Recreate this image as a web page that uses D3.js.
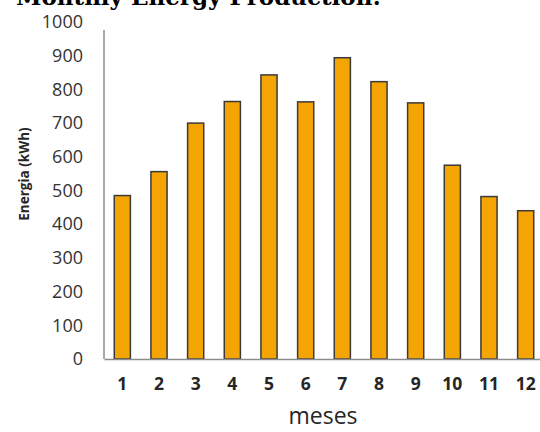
<!DOCTYPE html>
<html>
<head>
<meta charset="utf-8">
<script src="https://cdn.jsdelivr.net/npm/d3@7"></script>
<style>
  body { margin: 0; background: #fff; }
  svg { display: block; }
</style>
</head>
<body>
<div id="vis1"></div>
<script>
const FRAME_HEIGHT = 432;
const FRAME_WIDTH = 540;
const MARGINS = {left: 104, right: -4, top: 22, bottom: 73};

const VIS_HEIGHT = FRAME_HEIGHT - MARGINS.top - MARGINS.bottom;
const VIS_WIDTH = FRAME_WIDTH - MARGINS.left - MARGINS.right;

// data
const MONTHS = ["1", "2", "3", "4", "5", "6", "7", "8", "9", "10", "11", "12"];
const ENERGY = [485, 556, 700, 764, 843, 763, 894, 823, 760, 575, 482, 440];
const Y_TICKS = [0, 100, 200, 300, 400, 500, 600, 700, 800, 900, 1000];

const FRAME = d3.select("#vis1")
                  .append("svg")
                    .attr("height", FRAME_HEIGHT)
                    .attr("width", FRAME_WIDTH);

const X_SCALE = d3.scaleBand()
                  .domain(MONTHS)
                  .range([0, VIS_WIDTH])
                  .paddingInner(0.56)
                  .paddingOuter(0.28);

const Y_SCALE = d3.scaleLinear()
                  .domain([0, 1000])
                  .range([VIS_HEIGHT, 0]);

const G = FRAME.append("g")
            .attr("transform", "translate(" + MARGINS.left + "," + MARGINS.top + ")");

// y axis (no tick marks, just labels + line)
const yAxis = G.append("g")
    .call(d3.axisLeft(Y_SCALE).tickValues(Y_TICKS).tickFormat(d3.format("d"))
            .tickSize(0).tickPadding(21));
yAxis.select(".domain").remove();
yAxis.selectAll("text")
    .attr("font-family", "'Open Sans', sans-serif")
    .attr("font-size", "18px")
    .attr("fill", "#333");

G.append("line")
    .attr("x1", 0).attr("x2", 0)
    .attr("y1", Y_SCALE(1000) + 8).attr("y2", VIS_HEIGHT)
    .attr("stroke", "#8c8c8c").attr("stroke-width", 1.5);

// bars
G.selectAll(".bar")
    .data(ENERGY)
    .enter()
    .append("rect")
      .attr("class", "bar")
      .attr("x", (d, i) => X_SCALE(MONTHS[i]))
      .attr("y", (d) => Y_SCALE(d))
      .attr("width", X_SCALE.bandwidth())
      .attr("height", (d) => VIS_HEIGHT - Y_SCALE(d))
      .attr("fill", "#F5A503")
      .attr("stroke", "#3a3a3a")
      .attr("stroke-width", 1.5);

// x axis
const xAxis = G.append("g")
    .attr("transform", "translate(0," + VIS_HEIGHT + ")")
    .call(d3.axisBottom(X_SCALE).tickSize(0).tickPadding(19));
xAxis.select(".domain")
    .attr("stroke", "#8c8c8c").attr("stroke-width", 1.5);
xAxis.selectAll("text")
    .attr("font-family", "'Open Sans', sans-serif")
    .attr("font-size", "17.5px")
    .attr("font-weight", "bold")
    .attr("fill", "#262626");

// axis titles
FRAME.append("text")
    .attr("x", (MARGINS.left + FRAME_WIDTH) / 2 + 1)
    .attr("y", 424)
    .attr("text-anchor", "middle")
    .attr("font-family", "'Open Sans', sans-serif")
    .attr("font-size", "23px")
    .attr("fill", "#262626")
    .text("meses");

FRAME.append("text")
    .attr("transform", "translate(29,174) rotate(-90)")
    .attr("text-anchor", "middle")
    .attr("font-family", "'Open Sans', sans-serif")
    .attr("font-size", "13.5px")
    .attr("font-weight", "bold")
    .attr("fill", "#262626")
    .text("Energia (kWh)");

// title, cut off at the top like the original
FRAME.append("text")
    .attr("x", 16)
    .attr("y", 5)
    .attr("font-family", "'DejaVu Serif', serif")
    .attr("font-size", "23px")
    .attr("font-weight", "bold")
    .attr("fill", "#000")
    .text("Monthly Energy Production:");
</script>
</body>
</html>
